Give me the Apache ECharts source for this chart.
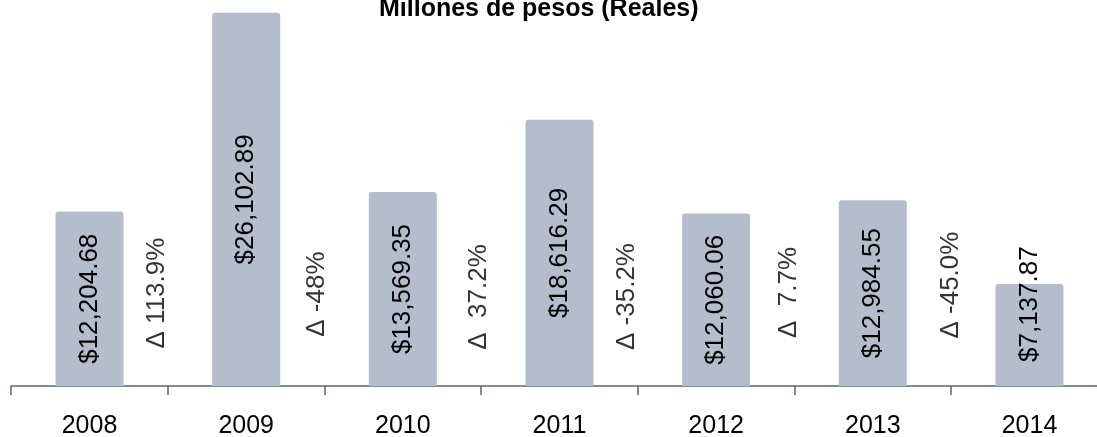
<!DOCTYPE html>
<html>
<head>
<meta charset="utf-8">
<script src="https://cdn.jsdelivr.net/npm/echarts@6/dist/echarts.min.js"></script>
<style>
  html, body { margin: 0; padding: 0; background: #fff; }
  #main { width: 1097px; height: 437px; }
</style>
</head>
<body>
<div id="main"></div>
<script>
// values
const years = ['2008', '2009', '2010', '2011', '2012', '2013', '2014']
const amounts = [12204.68, 26102.89, 13569.35, 18616.29, 12060.06, 12984.55, 7137.87]
const deltaLabels = ['Δ 113.9%', 'Δ -48%', 'Δ  37.2%', 'Δ -35.2%', 'Δ  7.7%', 'Δ -45.0%']
// where each delta note sits (category slot, height in axis units)
const deltaSlots = [0.43, 1.454, 2.487, 3.431, 4.464, 5.497]
const deltaHeights = [6500, 6430, 6230, 6260, 6540, 7060]

const FONT = '"Liberation Sans", Arial, sans-serif'
const fmtMoney = v => '$' + v.toLocaleString('en-US', { minimumFractionDigits: 2, maximumFractionDigits: 2 })

const chart = echarts.init(document.getElementById('main'), null, { renderer: 'canvas' })

const barData = amounts.map((v, i) => {
  const item = { value: v }
  // the short last bar: its label runs out of the top
  if (i === amounts.length - 1) {
    item.label = { position: 'insideBottom', distance: 24, align: 'left', verticalAlign: 'middle' }
  }
  return item
})

chart.setOption({
  animation: false,
  title: {
    text: 'Millones de pesos (Reales)',
    left: 374,
    top: -8,
    textStyle: { fontFamily: FONT, fontSize: 25, fontWeight: 'bold', color: '#000' }
  },
  // plot runs past the right edge, last slot is cut
  grid: { left: 11.2, width: 1096.6, top: 0, bottom: 51, outerBoundsMode: 'none', containLabel: false },
  xAxis: [{
    type: 'category',
    data: years,
    axisLine: { show: true, lineStyle: { color: '#5a6577', width: 1.5 } },
    axisTick: { show: true, length: 9, lineStyle: { color: '#5a6577', width: 1.5 } },
    axisLabel: { color: '#000', fontFamily: FONT, fontSize: 25, margin: 28 }
  }, {
    type: 'value',
    min: -0.5,
    max: 6.5,
    show: false
  }],
  yAxis: {
    type: 'value',
    min: 0,
    max: 27000,
    show: false
  },
  series: [{
    type: 'bar',
    data: barData,
    barWidth: 68,
    itemStyle: { color: '#b4bdcc', borderRadius: [3, 3, 0, 0] },
    label: {
      show: true,
      position: 'inside',
      rotate: 90,
      align: 'center',
      verticalAlign: 'middle',
      color: '#000',
      fontFamily: FONT,
      fontSize: 26,
      formatter: p => fmtMoney(p.value)
    }
  }, {
    type: 'scatter',
    xAxisIndex: 1,
    symbolSize: 0,
    data: deltaLabels.map((t, i) => ({ value: [deltaSlots[i], deltaHeights[i]], name: t })),
    label: {
      show: true,
      position: 'inside',
      rotate: 90,
      align: 'center',
      verticalAlign: 'middle',
      color: '#000',
      fontFamily: FONT,
      fontSize: 26,
      formatter: p => p.name
    }
  }]
})
</script>
</body>
</html>
